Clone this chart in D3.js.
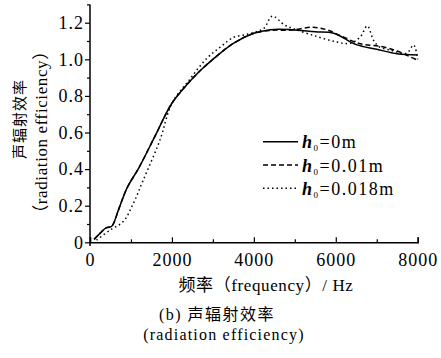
<!DOCTYPE html>
<html lang="zh">
<head>
<meta charset="UTF-8">
<script src="https://d3js.org/d3.v7.min.js"></script>
<style>
    body { margin: 0; background: #fff; }
    svg text { font-family: "Liberation Serif", "DejaVu Serif", "Noto Sans CJK SC", serif; fill: #000; }
</style>
</head>
<body>
<script>
    // frequencies (Hz) and radiation efficiency per case
    const freqA = [100, 250, 400, 530, 700, 900, 1200, 1600, 2000, 2400, 2700, 3000, 3500, 4000, 4400, 4900, 5500, 5950, 6500, 7000, 7500, 8000];
    const effA  = [0.016, 0.05, 0.08, 0.088, 0.18, 0.295, 0.41, 0.586, 0.76, 0.87, 0.94, 1.0, 1.087, 1.142, 1.162, 1.162, 1.15, 1.142, 1.08, 1.055, 1.03, 1.023];

    const freqB = [100, 250, 400, 530, 700, 900, 1200, 1600, 2000, 2400, 2700, 3000, 3500, 4000, 4400, 4900, 5450, 5800, 6100, 6600, 7100, 7500, 7800, 8000];
    const effB  = [0.016, 0.05, 0.08, 0.088, 0.18, 0.295, 0.41, 0.586, 0.76, 0.87, 0.94, 1.0, 1.087, 1.142, 1.158, 1.16, 1.175, 1.16, 1.13, 1.085, 1.07, 1.045, 1.015, 0.995];

    const freqC = [160, 490, 810, 1060, 1300, 1710, 2000, 2400, 2850, 3200, 3500, 3800, 4050, 4250, 4450, 4750, 5000, 5500, 6000, 6350, 6600, 6770, 6920, 7050, 7330, 7730, 7900, 8000];
    const effC  = [0.012, 0.067, 0.113, 0.213, 0.34, 0.56, 0.76, 0.88, 1.005, 1.07, 1.12, 1.135, 1.15, 1.17, 1.236, 1.187, 1.165, 1.127, 1.096, 1.087, 1.123, 1.182, 1.105, 1.07, 1.05, 1.033, 1.078, 1.0];

    const legendVals = ["0m", "0.01m", "0.018m"];
    const xTicks = [0, 2000, 4000, 6000, 8000];
    const yTicks = [0, 0.2, 0.4, 0.6, 0.8, 1.0, 1.2];

    const W = 441, H = 358;
    const svg = d3.select("body").append("svg").attr("width", W).attr("height", H);

    const x = d3.scaleLinear().domain([0, 8000]).range([90, 417.7]);
    const y = d3.scaleLinear().domain([0, 1.3]).range([242.3, 4.4]);

    const line = d3.line().x(d => x(d[0])).y(d => y(d[1])).curve(d3.curveCatmullRom);

    const series = [
        { f: freqA, v: effA, dash: null },
        { f: freqB, v: effB, dash: "5,3" },
        { f: freqC, v: effC, dash: "1.5,3" }
    ];

    series.forEach(s => {
        svg.append("path")
            .datum(s.f.map((f, i) => [f, s.v[i]]))
            .attr("d", line)
            .attr("fill", "none")
            .attr("stroke", "#000")
            .attr("stroke-width", 1.5)
            .attr("stroke-dasharray", s.dash);
    });

    // axes
    const fmtY = d => d === 0 ? "0" : d3.format(".1f")(d);
    const yAxis = svg.append("g").attr("transform", "translate(90,0)")
        .call(d3.axisLeft(y).tickValues(yTicks).tickSize(5).tickPadding(1).tickFormat(fmtY));
    svg.append("g").attr("transform", "translate(90,0)")
        .call(d3.axisLeft(y).tickValues([0.1, 0.3, 0.5, 0.7, 0.9, 1.1, 1.3]).tickSize(3).tickFormat(""))
        .select(".domain").remove();
    svg.append("g").attr("transform", "translate(0,242.3)")
        .call(d3.axisBottom(x).tickValues(xTicks).tickSize(-5).tickPadding(11).tickFormat(d3.format("d")));
    svg.append("g").attr("transform", "translate(0,242.3)")
        .call(d3.axisBottom(x).tickValues([1000, 3000, 5000, 7000]).tickSize(-3).tickFormat(""))
        .select(".domain").remove();

    svg.selectAll("g").attr("font-family", null);
    svg.selectAll(".domain").attr("stroke-width", 1.5);
    svg.selectAll(".tick line").attr("stroke-width", 1.2);
    yAxis.select(".domain").attr("d", "M0,4.4V246");
    svg.selectAll(".tick text").attr("font-size", 18).attr("letter-spacing", 1);

    // axis titles
    svg.append("text").attr("x", 266).attr("y", 291).attr("text-anchor", "middle")
        .attr("font-size", 17).attr("letter-spacing", 0.6).text("频率（frequency）/ Hz");
    svg.append("text").attr("transform", "translate(25,119) rotate(-90)").attr("text-anchor", "middle")
        .attr("font-size", 15).attr("letter-spacing", 1).text("声辐射效率");
    svg.append("text").attr("transform", "translate(47,132) rotate(-90)").attr("text-anchor", "middle")
        .attr("font-size", 17).attr("letter-spacing", 0.6).text("（radiation efficiency）");

    // legend
    const leg = svg.append("g");
    series.forEach((s, i) => {
        const ly = 141.7 + i * 23.3;
        leg.append("line").attr("x1", 263).attr("x2", 298).attr("y1", ly).attr("y2", ly)
            .attr("stroke", "#000").attr("stroke-width", 1.5).attr("stroke-dasharray", s.dash);
        const t = leg.append("text").attr("x", 302).attr("y", ly + 6.5).attr("font-size", 18).attr("letter-spacing", 1.5);
        t.append("tspan").attr("font-style", "italic").attr("font-weight", "bold").text("h");
        t.append("tspan").attr("font-size", 9).attr("dy", 3).text("0");
        t.append("tspan").attr("dy", -3).text("=" + legendVals[i]);
    });

    // caption
    svg.append("text").attr("x", 217).attr("y", 320).attr("text-anchor", "middle")
        .attr("font-size", 16).attr("letter-spacing", 1.5).text("(b)  声辐射效率");
    svg.append("text").attr("x", 224).attr("y", 340).attr("text-anchor", "middle")
        .attr("font-size", 16).attr("letter-spacing", 1.2).text("(radiation efficiency)");
</script>
</body>
</html>
